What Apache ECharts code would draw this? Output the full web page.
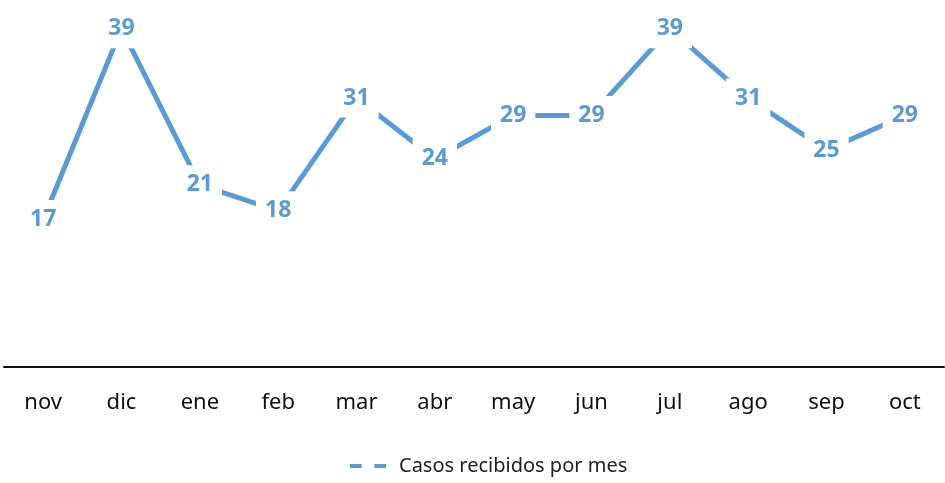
<!DOCTYPE html>
<html>
<head>
<meta charset="utf-8">
<script src="https://cdn.jsdelivr.net/npm/echarts@6/dist/echarts.min.js"></script>
<style>
  html, body { margin: 0; padding: 0; background: #fff; }
  #myChart { width: 945px; height: 483px; }
</style>
</head>
<body>
<div id="myChart"></div>
<script>
// meses y casos
const meses = ["nov", "dic", "ene", "feb", "mar", "abr", "may", "jun", "jul", "ago", "sep", "oct"];
const casos = [17, 39, 21, 18, 31, 24, 29, 29, 39, 31, 25, 29];
const serieNombre = "Casos recibidos por mes";

const azul = "#5B9BD5";
const fuente = "Noto Sans";
let myChart = echarts.init(document.getElementById("myChart"));
let option = {
  animation: false,
  grid: { left: 4, right: 1, top: 20, bottom: 116 },
  legend: {
    data: [serieNombre],
    bottom: 2,
    left: 345,
    icon: "path://M0,0H11V4H0Z M23,0H34V4H23Z",
    itemWidth: 36,
    itemHeight: 5,
    itemGap: 10,
    textStyle: { fontFamily: fuente, fontSize: 20, color: "#222", padding: [0, 0, 0, 8] },
  },
  xAxis: {
    type: "category",
    data: meses,
    boundaryGap: true,
    axisLine: { lineStyle: { color: "#111", width: 2 } },
    axisTick: { show: false },
    axisLabel: { fontFamily: fuente, fontSize: 22, color: "#111", margin: 25 },
  },
  yAxis: {
    type: "value",
    min: 0,
    max: 40,
    show: false,
    splitLine: { show: false },
  },
  series: [
    {
      name: serieNombre,
      type: "line",
      data: casos,
      symbol: "circle",
      symbolSize: 2,
      itemStyle: { color: azul },
      lineStyle: { color: azul, width: 5 },
      label: {
        show: true,
        position: "inside",
        color: azul,
        fontFamily: fuente,
        fontWeight: "bold",
        fontSize: 23,
        backgroundColor: "#fff",
        padding: [8, 9],
      },
    },
  ],
};
myChart.setOption(option);
</script>
</body>
</html>
